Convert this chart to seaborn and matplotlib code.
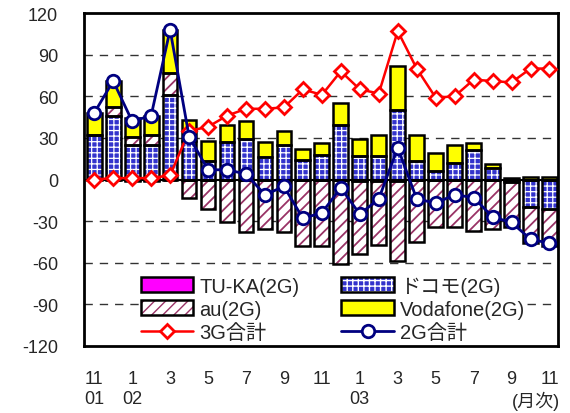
import matplotlib
matplotlib.use("Agg")
import matplotlib.pyplot as plt
import numpy as np
import pandas as pd
import seaborn as sns
from matplotlib.patches import Patch
from matplotlib.lines import Line2D

# monthly net additions, Nov 2001 - Nov 2003 (10k subscribers)
tuka = [0, 0, -1, -1, 0, 0, 0, 0, 0, 0, 0, 0, 0, 0, -1, -1, -1, 0, 0, 0, 0, 0, 0, 0, 0]
docomo = [32, 46, 25, 25, 61, 28, 13, 27, 29, 16, 25, 14, 18, 39, 17, 17, 50, 13, 6, 12, 21, 8, -2, -20, -21]
au = [0, 6, 6, 7, 16, -13, -21, -31, -38, -36, -38, -48, -48, -61, -53, -46, -58, -45, -34, -34, -37, -36, -32, -26, -27]
voda = [16, 19, 13, 14, 31, 15, 15, 12, 13, 11, 10, 8, 8, 16, 12, 15, 32, 19, 13, 13, 5, 3, 1, 2, 2]
total_3g = [0, 1, 1, 1, 3, 35, 38, 46, 51, 51, 52, 65, 61, 78, 65, 62, 107, 80, 59, 60, 72, 71, 70, 80, 80]
total_2g = [48, 71, 42, 46, 108, 31, 7, 7, 4, -11, -5, -28, -24, -6, -25, -14, 23, -14, -17, -11, -13, -27, -31, -43, -46]

xlabels = ["11\n01", "1\n02", "3", "5", "7", "9", "11", "1\n03", "3", "5", "7", "9", "11"]
unit_label = "(月次)"
yticks = [-120, -90, -60, -30, 0, 30, 60, 90, 120]

sns.set_style("white")
plt.rcParams["font.family"] = ["Liberation Sans", "Noto Sans CJK JP", "DejaVu Sans"]

x = np.arange(len(docomo))
df = pd.DataFrame({"x": x, "g3": total_3g, "g2": total_2g})

fig = plt.figure(figsize=(5.7, 4.14), dpi=100)
ax = fig.add_axes([0.147, 0.162, 0.832, 0.804])

# gridlines
for v in [-90, -60, -30, 30, 60, 90]:
    ax.axhline(v, color="#333333", lw=1, ls=(0, (6, 5)), zorder=1)

# stacked bars (positives and negatives stacked separately)
series = [
    (tuka, "#ff00ff", "#ff00ff", None, 1.0),
    (docomo, "#3333cc", "white", "+++", 0.9),
    (au, "white", "#993366", "///", 1.3),
    (voda, "#ffff00", "#ffff00", None, 1.0),
]
pos = np.zeros(len(x))
neg = np.zeros(len(x))
w = 0.78
for vals, face, hcol, hatch, hlw in series:
    v = np.array(vals, dtype=float)
    bottom = np.where(v >= 0, pos, neg)
    with plt.rc_context({"hatch.linewidth": hlw}):
        ax.bar(x, v, bottom=bottom, width=w, color=face, edgecolor=hcol, hatch=hatch,
               linewidth=0, zorder=2)
    ax.bar(x, v, bottom=bottom, width=w, fill=False, edgecolor="black", linewidth=1.8, zorder=3)
    pos = pos + np.where(v >= 0, v, 0)
    neg = neg + np.where(v < 0, v, 0)

ax.axhline(0, color="black", lw=1.5, zorder=3.5)

sns.lineplot(data=df, x="x", y="g3", color="red", lw=1.8, marker="D", markersize=7,
             markerfacecolor="white", markeredgecolor="red", markeredgewidth=2, zorder=5, ax=ax)
sns.lineplot(data=df, x="x", y="g2", color="#000080", lw=2, marker="o", markersize=9,
             markerfacecolor="white", markeredgecolor="#000080", markeredgewidth=2, zorder=6, ax=ax)

ax.set_xlim(-0.55, 24.45)
ax.set_ylim(-120, 120)
ax.set_yticks(yticks)
ax.set_yticklabels([str(v) for v in yticks], fontsize=13)
ax.set_xticks(x[::2])
ax.set_xticklabels(xlabels, fontsize=13, linespacing=1.3)
ax.tick_params(axis="x", length=0, pad=17)
ax.tick_params(axis="y", length=0, pad=18.5)
ax.text(23.3, -0.165, unit_label, transform=ax.get_xaxis_transform(), ha="center", va="center",
        fontsize=13)
ax.set_xlabel("")
ax.set_ylabel("")
for s in ax.spines.values():
    s.set_color("black")
    s.set_linewidth(2)

# legend
def bar_handle(face, hcol, hatch, hlw=1.0):
    with plt.rc_context({"hatch.linewidth": hlw}):
        p = Patch(facecolor=face, edgecolor=hcol, hatch=hatch, linewidth=0)
    return (p, Patch(facecolor="none", edgecolor="black", linewidth=1.8))

handles = [
    bar_handle("#ff00ff", "#ff00ff", None),
    bar_handle("white", "#993366", "///", 1.3),
    Line2D([], [], color="red", lw=1.8, marker="D", markersize=7, markerfacecolor="white",
           markeredgecolor="red", markeredgewidth=2),
    bar_handle("#3333cc", "white", "+++", 0.9),
    bar_handle("#ffff00", "#ffff00", None),
    Line2D([], [], color="#000080", lw=2, marker="o", markersize=9, markerfacecolor="white",
           markeredgecolor="#000080", markeredgewidth=2),
]
labels = ["TU-KA(2G)", "au(2G)", "3G合計", "ドコモ(2G)", "Vodafone(2G)", "2G合計"]
leg = ax.legend(handles, labels, ncol=2, loc="upper left", bbox_to_anchor=(0.095, 0.0, 0.861, 0.245),
                mode="expand", fontsize=14.5, handlelength=2.6, handleheight=0.75, handletextpad=0.3,
                labelspacing=0.2, borderpad=0.1, frameon=True, fancybox=False, framealpha=1)
leg.get_frame().set_edgecolor("none")
leg.get_frame().set_facecolor("white")
leg.set_zorder(7)

fig.savefig("out.png", dpi=100)
